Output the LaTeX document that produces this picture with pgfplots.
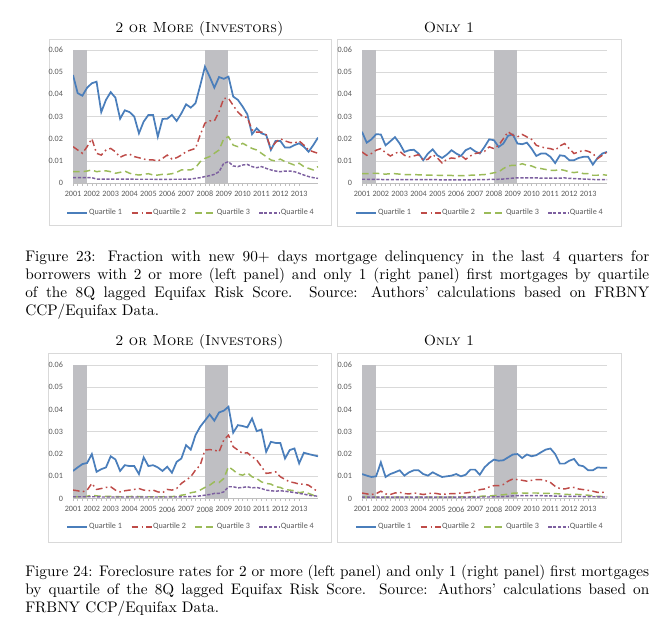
\documentclass[border=0pt]{standalone}
\usepackage{fontspec}
\usepackage{pgfplots}
\usepackage{pgfplotstable}
\pgfplotsset{compat=1.18}
\newfontfamily\carlito{Carlito}
\newfontfamily\capfam{lmroman10-regular.otf}[Ligatures=TeX]
\definecolor{qone}{HTML}{4A7EBB}
\definecolor{qtwo}{HTML}{BE4B48}
\definecolor{qthree}{HTML}{9BBB59}
\definecolor{qfour}{HTML}{7D60A0}
\definecolor{band}{HTML}{BFBFC3}
\definecolor{gridc}{HTML}{D9D9D9}
\definecolor{axc}{HTML}{BFBFBF}
\definecolor{tickc}{HTML}{595959}
\definecolor{framec}{HTML}{D9D9D9}
\newcommand\chartfont{\carlito\fontsize{6.1pt}{7pt}\selectfont}
\newcommand\capfont{\capfam\fontsize{11.45pt}{13.5pt}\selectfont\nonfrenchspacing\hyphenpenalty=10000\exhyphenpenalty=10000}

\pgfplotstableread{
t q1 q2 q3 q4
2001.00 0.0487 0.0164 0.0051 0.0024
2001.25 0.0405 0.0149 0.0051 0.0024
2001.50 0.0394 0.0134 0.0051 0.0024
2001.75 0.0430 0.0164 0.0054 0.0024
2002.00 0.0450 0.0200 0.0059 0.0024
2002.25 0.0457 0.0134 0.0051 0.0018
2002.50 0.0320 0.0126 0.0054 0.0018
2002.75 0.0375 0.0149 0.0055 0.0018
2003.00 0.0410 0.0156 0.0051 0.0018
2003.25 0.0385 0.0141 0.0044 0.0018
2003.50 0.0290 0.0116 0.0048 0.0018
2003.75 0.0328 0.0126 0.0054 0.0018
2004.00 0.0320 0.0130 0.0044 0.0018
2004.25 0.0300 0.0119 0.0039 0.0017
2004.50 0.0224 0.0114 0.0036 0.0017
2004.75 0.0277 0.0108 0.0039 0.0017
2005.00 0.0307 0.0104 0.0042 0.0017
2005.25 0.0307 0.0104 0.0036 0.0017
2005.50 0.0209 0.0099 0.0036 0.0016
2005.75 0.0289 0.0111 0.0039 0.0016
2006.00 0.0290 0.0126 0.0039 0.0016
2006.25 0.0307 0.0108 0.0042 0.0017
2006.50 0.0280 0.0114 0.0048 0.0017
2006.75 0.0314 0.0126 0.0059 0.0017
2007.00 0.0355 0.0141 0.0059 0.0018
2007.25 0.0340 0.0149 0.0059 0.0018
2007.50 0.0360 0.0156 0.0069 0.0021
2007.75 0.0440 0.0217 0.0096 0.0024
2008.00 0.0525 0.0270 0.0111 0.0029
2008.25 0.0480 0.0280 0.0119 0.0033
2008.50 0.0430 0.0280 0.0134 0.0039
2008.75 0.0478 0.0322 0.0149 0.0051
2009.00 0.0470 0.0382 0.0200 0.0089
2009.25 0.0480 0.0382 0.0209 0.0096
2009.50 0.0390 0.0350 0.0171 0.0077
2009.75 0.0375 0.0320 0.0164 0.0074
2010.00 0.0345 0.0300 0.0179 0.0081
2010.25 0.0310 0.0295 0.0168 0.0084
2010.50 0.0220 0.0240 0.0156 0.0074
2010.75 0.0247 0.0229 0.0149 0.0069
2011.00 0.0224 0.0230 0.0134 0.0074
2011.25 0.0217 0.0217 0.0119 0.0066
2011.50 0.0149 0.0156 0.0104 0.0059
2011.75 0.0190 0.0183 0.0099 0.0054
2012.00 0.0190 0.0200 0.0108 0.0051
2012.25 0.0160 0.0190 0.0096 0.0054
2012.50 0.0160 0.0183 0.0089 0.0054
2012.75 0.0171 0.0180 0.0081 0.0051
2013.00 0.0179 0.0190 0.0089 0.0044
2013.25 0.0164 0.0171 0.0074 0.0036
2013.50 0.0141 0.0149 0.0066 0.0029
2013.75 0.0171 0.0141 0.0059 0.0024
2014.00 0.0205 0.0134 0.0074 0.0021
}\TL

\pgfplotstableread{
t q1 q2 q3 q4
2001.00 0.0231 0.0140 0.0042 0.0017
2001.25 0.0182 0.0125 0.0042 0.0017
2001.50 0.0197 0.0133 0.0044 0.0016
2001.75 0.0220 0.0148 0.0044 0.0016
2002.00 0.0219 0.0155 0.0042 0.0016
2002.25 0.0170 0.0137 0.0040 0.0015
2002.50 0.0188 0.0122 0.0042 0.0015
2002.75 0.0207 0.0133 0.0042 0.0016
2003.00 0.0178 0.0143 0.0040 0.0015
2003.25 0.0140 0.0125 0.0038 0.0015
2003.50 0.0148 0.0118 0.0038 0.0015
2003.75 0.0150 0.0122 0.0038 0.0015
2004.00 0.0133 0.0128 0.0037 0.0015
2004.25 0.0103 0.0103 0.0036 0.0015
2004.50 0.0133 0.0107 0.0036 0.0015
2004.75 0.0152 0.0128 0.0035 0.0015
2005.00 0.0125 0.0113 0.0035 0.0015
2005.25 0.0113 0.0090 0.0034 0.0014
2005.50 0.0128 0.0107 0.0035 0.0014
2005.75 0.0148 0.0113 0.0034 0.0014
2006.00 0.0133 0.0110 0.0033 0.0014
2006.25 0.0122 0.0125 0.0033 0.0014
2006.50 0.0148 0.0107 0.0034 0.0014
2006.75 0.0158 0.0122 0.0035 0.0014
2007.00 0.0143 0.0133 0.0036 0.0015
2007.25 0.0133 0.0137 0.0037 0.0015
2007.50 0.0163 0.0143 0.0038 0.0015
2007.75 0.0197 0.0163 0.0042 0.0016
2008.00 0.0193 0.0155 0.0046 0.0016
2008.25 0.0163 0.0170 0.0050 0.0017
2008.50 0.0178 0.0200 0.0065 0.0018
2008.75 0.0213 0.0231 0.0077 0.0020
2009.00 0.0219 0.0216 0.0080 0.0022
2009.25 0.0178 0.0208 0.0080 0.0023
2009.50 0.0175 0.0219 0.0087 0.0023
2009.75 0.0182 0.0208 0.0080 0.0023
2010.00 0.0155 0.0197 0.0077 0.0023
2010.25 0.0122 0.0170 0.0068 0.0023
2010.50 0.0133 0.0163 0.0065 0.0022
2010.75 0.0133 0.0158 0.0061 0.0022
2011.00 0.0118 0.0155 0.0057 0.0022
2011.25 0.0090 0.0148 0.0057 0.0022
2011.50 0.0125 0.0167 0.0061 0.0022
2011.75 0.0122 0.0178 0.0057 0.0023
2012.00 0.0103 0.0155 0.0050 0.0021
2012.25 0.0103 0.0133 0.0047 0.0020
2012.50 0.0113 0.0140 0.0050 0.0019
2012.75 0.0118 0.0148 0.0042 0.0018
2013.00 0.0118 0.0143 0.0042 0.0017
2013.25 0.0083 0.0133 0.0035 0.0016
2013.50 0.0113 0.0110 0.0035 0.0015
2013.75 0.0133 0.0125 0.0038 0.0015
2014.00 0.0140 0.0140 0.0035 0.0015
}\TR

\pgfplotstableread{
t q1 q2 q3 q4
2001.00 0.0124 0.0038 0.0008 0.0008
2001.25 0.0140 0.0035 0.0008 0.0008
2001.50 0.0155 0.0030 0.0008 0.0008
2001.75 0.0160 0.0038 0.0010 0.0008
2002.00 0.0200 0.0068 0.0015 0.0008
2002.25 0.0120 0.0041 0.0012 0.0008
2002.50 0.0132 0.0045 0.0010 0.0007
2002.75 0.0140 0.0050 0.0010 0.0007
2003.00 0.0190 0.0053 0.0010 0.0007
2003.25 0.0176 0.0038 0.0009 0.0007
2003.50 0.0124 0.0030 0.0008 0.0007
2003.75 0.0150 0.0035 0.0008 0.0007
2004.00 0.0146 0.0038 0.0009 0.0007
2004.25 0.0146 0.0041 0.0010 0.0007
2004.50 0.0110 0.0045 0.0009 0.0007
2004.75 0.0185 0.0038 0.0008 0.0007
2005.00 0.0146 0.0035 0.0008 0.0007
2005.25 0.0150 0.0038 0.0008 0.0007
2005.50 0.0140 0.0030 0.0008 0.0007
2005.75 0.0124 0.0026 0.0008 0.0007
2006.00 0.0143 0.0041 0.0009 0.0007
2006.25 0.0116 0.0038 0.0009 0.0007
2006.50 0.0165 0.0045 0.0010 0.0007
2006.75 0.0180 0.0068 0.0015 0.0008
2007.00 0.0240 0.0083 0.0018 0.0008
2007.25 0.0220 0.0098 0.0026 0.0009
2007.50 0.0285 0.0128 0.0030 0.0010
2007.75 0.0323 0.0150 0.0038 0.0012
2008.00 0.0350 0.0218 0.0050 0.0015
2008.25 0.0378 0.0220 0.0060 0.0018
2008.50 0.0350 0.0218 0.0075 0.0023
2008.75 0.0387 0.0210 0.0072 0.0023
2009.00 0.0395 0.0263 0.0090 0.0030
2009.25 0.0413 0.0285 0.0143 0.0053
2009.50 0.0296 0.0233 0.0128 0.0053
2009.75 0.0330 0.0218 0.0110 0.0048
2010.00 0.0326 0.0203 0.0105 0.0050
2010.25 0.0320 0.0206 0.0116 0.0053
2010.50 0.0360 0.0188 0.0098 0.0048
2010.75 0.0303 0.0173 0.0090 0.0050
2011.00 0.0310 0.0143 0.0075 0.0045
2011.25 0.0210 0.0113 0.0068 0.0038
2011.50 0.0255 0.0116 0.0065 0.0035
2011.75 0.0250 0.0120 0.0053 0.0033
2012.00 0.0250 0.0098 0.0050 0.0035
2012.25 0.0180 0.0086 0.0040 0.0033
2012.50 0.0218 0.0075 0.0038 0.0030
2012.75 0.0225 0.0071 0.0035 0.0027
2013.00 0.0158 0.0065 0.0026 0.0023
2013.25 0.0206 0.0065 0.0030 0.0020
2013.50 0.0200 0.0060 0.0023 0.0015
2013.75 0.0195 0.0045 0.0015 0.0012
2014.00 0.0190 0.0030 0.0010 0.0011
}\BL

\pgfplotstableread{
t q1 q2 q3 q4
2001.00 0.0110 0.0025 0.0007 0.0006
2001.25 0.0103 0.0021 0.0007 0.0006
2001.50 0.0097 0.0018 0.0007 0.0006
2001.75 0.0100 0.0022 0.0007 0.0006
2002.00 0.0163 0.0033 0.0007 0.0006
2002.25 0.0097 0.0021 0.0007 0.0006
2002.50 0.0110 0.0018 0.0007 0.0006
2002.75 0.0118 0.0025 0.0007 0.0006
2003.00 0.0127 0.0028 0.0007 0.0006
2003.25 0.0103 0.0022 0.0007 0.0006
2003.50 0.0118 0.0021 0.0007 0.0006
2003.75 0.0127 0.0025 0.0007 0.0006
2004.00 0.0127 0.0022 0.0007 0.0006
2004.25 0.0110 0.0018 0.0007 0.0006
2004.50 0.0103 0.0022 0.0007 0.0006
2004.75 0.0118 0.0025 0.0007 0.0006
2005.00 0.0107 0.0022 0.0007 0.0006
2005.25 0.0097 0.0018 0.0007 0.0006
2005.50 0.0100 0.0021 0.0007 0.0006
2005.75 0.0103 0.0022 0.0007 0.0006
2006.00 0.0110 0.0022 0.0007 0.0006
2006.25 0.0100 0.0025 0.0007 0.0006
2006.50 0.0107 0.0025 0.0008 0.0006
2006.75 0.0130 0.0028 0.0008 0.0006
2007.00 0.0130 0.0033 0.0009 0.0006
2007.25 0.0107 0.0040 0.0010 0.0007
2007.50 0.0140 0.0043 0.0011 0.0007
2007.75 0.0160 0.0052 0.0012 0.0007
2008.00 0.0175 0.0058 0.0013 0.0008
2008.25 0.0170 0.0058 0.0015 0.0008
2008.50 0.0172 0.0063 0.0017 0.0009
2008.75 0.0185 0.0078 0.0020 0.0010
2009.00 0.0198 0.0088 0.0024 0.0012
2009.25 0.0200 0.0085 0.0025 0.0013
2009.50 0.0182 0.0082 0.0025 0.0013
2009.75 0.0198 0.0078 0.0024 0.0013
2010.00 0.0190 0.0082 0.0025 0.0013
2010.25 0.0195 0.0085 0.0025 0.0013
2010.50 0.0208 0.0085 0.0024 0.0013
2010.75 0.0220 0.0080 0.0023 0.0012
2011.00 0.0225 0.0072 0.0024 0.0012
2011.25 0.0200 0.0055 0.0022 0.0011
2011.50 0.0157 0.0045 0.0021 0.0011
2011.75 0.0157 0.0043 0.0019 0.0010
2012.00 0.0170 0.0048 0.0018 0.0010
2012.25 0.0178 0.0050 0.0019 0.0010
2012.50 0.0150 0.0043 0.0018 0.0010
2012.75 0.0145 0.0040 0.0017 0.0009
2013.00 0.0127 0.0037 0.0015 0.0009
2013.25 0.0127 0.0033 0.0012 0.0008
2013.50 0.0140 0.0028 0.0010 0.0008
2013.75 0.0138 0.0028 0.0009 0.0007
2014.00 0.0138 0.0029 0.0009 0.0007
}\BR

\pgfplotsset{
  panel/.style={
    scale only axis, width=183.75pt, height=99.75pt,
    xmin=2001, xmax=2014, ymin=0, ymax=0.06,
    scaled y ticks=false, scaled x ticks=false,
    xtick={2001,2002,2003,2004,2005,2006,2007,2008,2009,2010,2011,2012,2013},
    xticklabels={2001,2002,2003,2004,2005,2006,2007,2008,2009,2010,2011,2012,2013},
    minor x tick num=3,
    ytick={0,0.01,0.02,0.03,0.04,0.05,0.06},
    yticklabels={0,0.01,0.02,0.03,0.04,0.05,0.06},
    axis line style={draw=none},
    ymajorgrids, grid style={gridc, line width=0.5pt},
    xtick pos=bottom, tick align=outside,
    ytick style={draw=none},
    xtick style={axc, line width=0.4pt},
    major tick length=2pt, minor tick length=2pt,
    tick label style={font=\chartfont, text=tickc},
    yticklabel style={xshift=-2pt},
    xticklabel style={yshift=-0.5pt},
    legend style={at={(0.48,-0.225)}, anchor=center, draw=none, fill=none,
      legend columns=4, font=\chartfont, text=tickc,
      /tikz/every even column/.append style={column sep=6pt},
      nodes={inner sep=0.6pt}},
    legend image code/.code={\draw[##1] (0pt,0pt) -- (15pt,0pt);},
  },
  q1/.style={qone, line width=1.3pt},
  q2/.style={qtwo, line width=1.1pt, dash pattern=on 5pt off 2.5pt on 1.2pt off 2.5pt},
  q3/.style={qthree, line width=1.1pt, dash pattern=on 5pt off 3pt},
  q4/.style={qfour, line width=1.1pt, dash pattern=on 2.4pt off 1.2pt},
}

\newcommand\panelplots[1]{%
  \fill[band] (axis cs:2001,0) rectangle (axis cs:2001.75,0.06);
  \fill[band] (axis cs:2008,0) rectangle (axis cs:2009.25,0.06);
  \draw[axc, line width=0.5pt] (axis cs:2001,0) -- (axis cs:2014,0);
  \addplot[q1] table[x=t,y=q1] {#1};
  \addplot[q2] table[x=t,y=q2] {#1};
  \addplot[q3] table[x=t,y=q3] {#1};
  \addplot[q4] table[x=t,y=q4] {#1};
  \legend{Quartile 1,Quartile 2,Quartile 3,Quartile 4}
}

\begin{document}
\begin{tikzpicture}
\useasboundingbox (0pt,0pt) rectangle (501pt,-477.75pt);
% frames
\draw[framec, line width=0.6pt] (36.75pt,-29.25pt) rectangle (248.25pt,-168.75pt);
\draw[framec, line width=0.6pt] (252.75pt,-29.25pt) rectangle (465.75pt,-169.5pt);
\draw[framec, line width=0.6pt] (36pt,-264.75pt) rectangle (248.25pt,-406.5pt);
\draw[framec, line width=0.6pt] (252.75pt,-264.75pt) rectangle (465.75pt,-406.5pt);
% titles
\node[anchor=base, inner sep=0pt, font=\fontsize{10.95pt}{13.6pt}\selectfont] at (149.6pt,-24.4pt) {\textsc{2 or More (Investors)}};
\node[anchor=base, inner sep=0pt, font=\fontsize{10.95pt}{13.6pt}\selectfont] at (336.75pt,-24.4pt) {\textsc{Only 1}};
\node[anchor=base, inner sep=0pt, font=\fontsize{10.95pt}{13.6pt}\selectfont] at (149.6pt,-258.75pt) {\textsc{2 or More (Investors)}};
\node[anchor=base, inner sep=0pt, font=\fontsize{10.95pt}{13.6pt}\selectfont] at (336.75pt,-258.75pt) {\textsc{Only 1}};

\begin{axis}[panel, at={(54.75pt,-137.25pt)}, anchor=south west]
\panelplots{\TL}
\end{axis}
\begin{axis}[panel, at={(271.5pt,-137.25pt)}, anchor=south west]
\panelplots{\TR}
\end{axis}
\begin{axis}[panel, at={(54.75pt,-373.9pt)}, anchor=south west, height=100.1pt,
  legend style={at={(0.48,-0.214)}}]
\panelplots{\BL}
\end{axis}
\begin{axis}[panel, at={(271.5pt,-373.9pt)}, anchor=south west, height=100.1pt,
  legend style={at={(0.48,-0.214)}}]
\panelplots{\BR}
\end{axis}

% captions
\node[anchor=north west, inner sep=0pt, text width=468pt, align=justify,
  font=\capfont] at (18.75pt,-187.5pt)
  {Figure 23: Fraction with new 90+ days mortgage delinquency in the last 4 quarters for\linebreak borrowers with 2 or more (left panel) and only 1 (right panel) first mortgages by quartile\linebreak of the 8Q lagged Equifax Risk Score.  Source: Authors' calculations based on FRBNY\linebreak CCP/Equifax Data.};
\node[anchor=north west, inner sep=0pt, text width=468pt, align=justify,
  font=\capfont] at (18.75pt,-423.75pt)
  {Figure 24: Foreclosure rates for 2 or more (left panel) and only 1 (right panel) first mortgages\linebreak by quartile of the 8Q lagged Equifax Risk Score.  Source: Authors' calculations based on\linebreak FRBNY CCP/Equifax Data.};
\end{tikzpicture}
\end{document}
